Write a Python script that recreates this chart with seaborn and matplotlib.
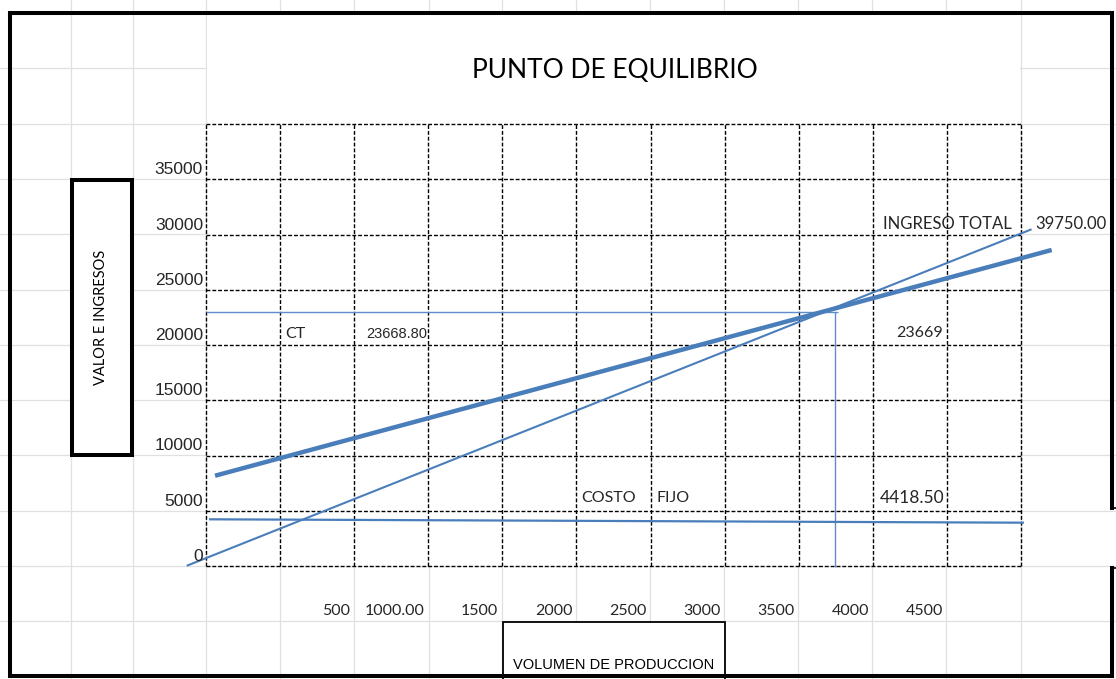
import matplotlib
matplotlib.use("Agg")
import matplotlib.pyplot as plt
import matplotlib.patches as mpatches
import seaborn as sns
import pandas as pd

# ---------------- data ----------------
y_ticks = [0, 5000, 10000, 15000, 20000, 25000, 30000, 35000]
x_ticks = [500, 1000, 1500, 2000, 2500, 3000, 3500, 4000, 4500]
x_tick_labels = ["500", "1000.00", "1500", "2000", "2500", "3000", "3500", "4000", "4500"]

# hand drawn lines (volumen, valor)
ct_volumen = [61, 5707]
ct_valor = [8170, 28600]
it_volumen = [-130, 5571]
it_valor = [20, 30470]
cf_volumen = [20, 5520]
cf_valor = [4226, 3919]
pe_h_volumen = [0, 4265]
pe_h_valor = [23014, 23014]
pe_v_volumen = [4242, 4242]
pe_v_valor = [23014, -60]

ct_label_value = 23668.80
pe_value = 23669
it_value = 39750.00
cf_value = 4418.50

title = "PUNTO DE EQUILIBRIO"
y_title = "VALOR E INGRESOS"
x_title = "VOLUMEN DE PRODUCCION"

# ---------------- figure ----------------
sns.set_style("white")
plt.rcParams["font.family"] = ["Lato", "DejaVu Sans"]
ARIAL = ["Liberation Sans", "DejaVu Sans"]

W, H = 1116, 679
fig = plt.figure(figsize=(W / 100, H / 100), dpi=100)

# background sheet (pixel coordinates)
bg = fig.add_axes([0, 0, 1, 1])
bg.set_xlim(0, W)
bg.set_ylim(H, 0)
bg.axis("off")

gray = "#E0E0E0"
cols = [71, 133, 206, 280, 354, 429, 502, 576, 650, 724, 798, 872, 946, 1021]
rows = [68, 124, 179, 234, 290, 345, 400, 455, 511, 566, 621]
for c in cols:
    bg.plot([c, c], [0, H], color=gray, lw=0.9, zorder=1)
for r in rows:
    bg.plot([0, W], [r, r], color=gray, lw=0.9, zorder=1)

# white chart area
bg.add_patch(mpatches.Rectangle((207, 13), 813, 553, facecolor="white", edgecolor="none", zorder=2))

# outer border
bk = dict(color="black", lw=2.9, zorder=5, solid_capstyle="projecting")
bg.plot([10, 1112], [13, 13], **bk)
bg.plot([10, 10], [13, 675.5], **bk)
bg.plot([10, 1112], [675.5, 675.5], **bk)
bg.plot([1112, 1112], [13, 508], **bk)
bg.plot([1112, 1112], [568, 675.5], **bk)
bg.plot([1112, 1116], [508, 508], color="black", lw=1.2, zorder=5)
bg.plot([1112, 1116], [568, 568], color="black", lw=1.2, zorder=5)

# y title box
bg.add_patch(mpatches.Rectangle((72, 179.5), 60, 275.5, facecolor="white", edgecolor="black",
                                lw=2.9, zorder=4))
bg.text(101, 317, y_title, rotation=90, ha="center", va="center", fontsize=10.5,
        color="black", zorder=6)

# x title box
bg.add_patch(mpatches.Rectangle((503, 621.5), 222, 60, facecolor="white", edgecolor="black",
                                lw=1.3, zorder=4))
bg.text(614, 665, x_title, ha="center", va="center", fontsize=10.5,
        family=ARIAL, color="black", zorder=6)

# title
bg.text(614.5, 70, title, ha="center", va="center", fontsize=19, color="black", zorder=6)

# cell labels
bg.text(285, 334, "CT", ha="left", va="center", fontsize=11.5, zorder=6)
bg.text(366, 334, f"{ct_label_value:.2f}", ha="left", va="center", fontsize=10.5,
        family=ARIAL, zorder=6)
bg.text(943, 333, f"{pe_value}", ha="right", va="center", fontsize=11.5, zorder=6)
bg.text(883, 224, "INGRESO TOTAL", ha="left", va="center", fontsize=12, zorder=6)
bg.text(1035, 224, f"{it_value:.2f}", ha="left", va="center", fontsize=12, zorder=6)
bg.text(581, 498, "COSTO", ha="left", va="center", fontsize=11.5, zorder=6)
bg.text(656, 498, "FIJO", ha="left", va="center", fontsize=11.5, zorder=6)
bg.text(880, 498, f"{cf_value:.2f}", ha="left", va="center", fontsize=12.5, zorder=6)

# ---------------- data axes (dashed grid region) ----------------
gx0, gx1, gy0, gy1 = 206, 1021, 124, 566
ax = fig.add_axes([gx0 / W, (H - gy1) / H, (gx1 - gx0) / W, (gy1 - gy0) / H])
ax.set_facecolor("none")
ax.set_xlim(0, 5500)
ax.set_ylim(0, 40000)
for s in ax.spines.values():
    s.set_visible(False)
ax.set_xticks([])
ax.set_yticks([])

dash = (0, (2.8, 1.4))
for xv in range(0, 5501, 500):
    ax.axvline(xv, color="black", lw=1.0, ls=dash, clip_on=False, zorder=1)
for yv in range(0, 40001, 5000):
    ax.axhline(yv, color="black", lw=1.0, ls=dash, clip_on=False, zorder=1)

blue = "#4A7EBB"
light_blue = "#5F8DC9"

def seg(xs, ys, color, lw):
    d = pd.DataFrame({"volumen": xs, "valor": ys})
    sns.lineplot(data=d, x="volumen", y="valor", estimator=None, sort=False,
                 color=color, lw=lw, ax=ax)

seg(pe_h_volumen, pe_h_valor, light_blue, 1.0)
seg(pe_v_volumen, pe_v_valor, light_blue, 1.0)
seg(cf_volumen, cf_valor, blue, 1.6)
seg(it_volumen, it_valor, blue, 1.5)
seg(ct_volumen, ct_valor, blue, 3.2)
for ln in ax.lines:
    ln.set_clip_on(False)
    ln.set_solid_capstyle("butt")
ax.set_xlabel("")
ax.set_ylabel("")

# tick labels
for v in y_ticks:
    ax.annotate(str(v), xy=(0, v), xytext=(-3, 2), textcoords="offset pixels",
                ha="right", va="bottom", fontsize=12.5,
                family=ARIAL, annotation_clip=False)
for v, lab in zip(x_ticks, x_tick_labels):
    ax.annotate(lab, xy=(v + 500, 0), xytext=(-4, -45), textcoords="offset pixels",
                ha="right", va="center", fontsize=11.5, annotation_clip=False)

fig.savefig("out.png", dpi=100)
